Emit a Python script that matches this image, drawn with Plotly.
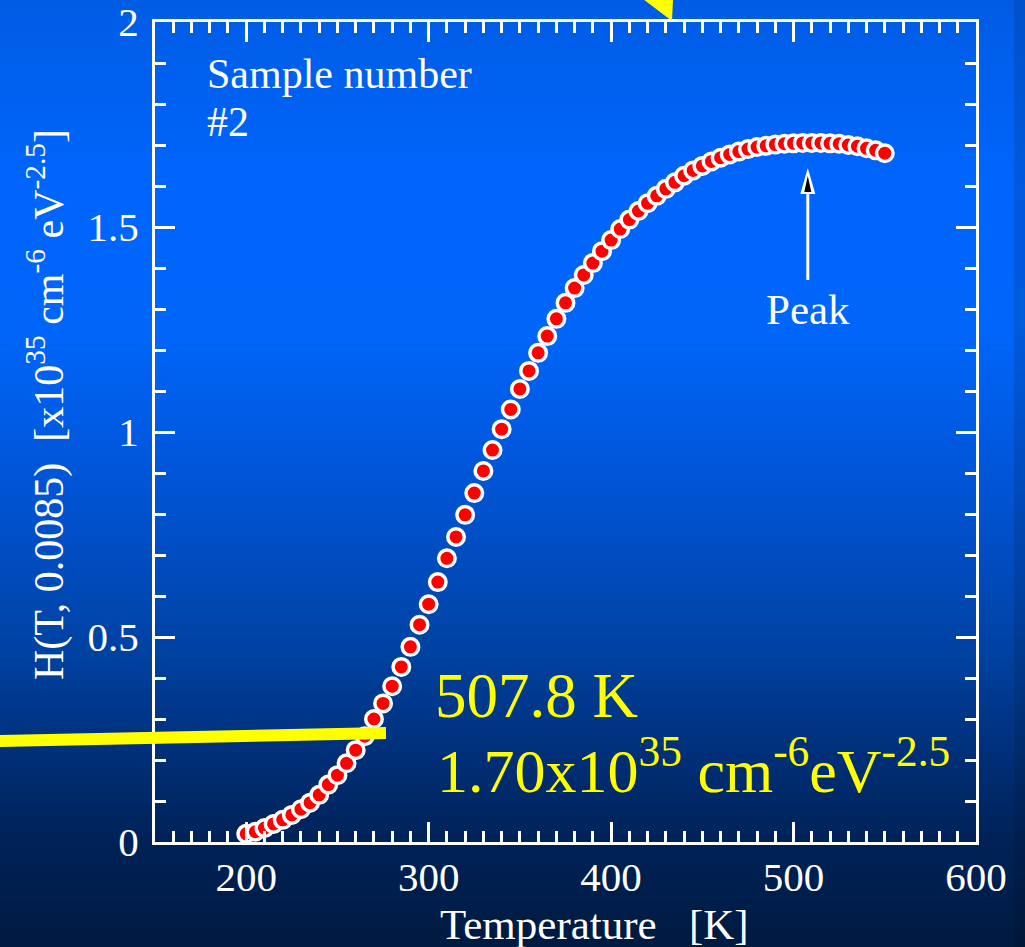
import plotly.graph_objects as go

# Measured H(T, 0.0085) curve for sample #2
temperature_k = [
    200, 205, 210, 215, 220, 225, 230, 235, 240, 245,
    250, 255, 260, 265, 270, 275, 280, 285, 290, 295,
    300, 305, 310, 315, 320, 325, 330, 335, 340, 345,
    350, 355, 360, 365, 370, 375, 380, 385, 390, 395,
    400, 405, 410, 415, 420, 425, 430, 435, 440, 445,
    450, 455, 460, 465, 470, 475, 480, 485, 490, 495,
    500, 505, 510, 515, 520, 525, 530, 535, 540, 545,
    550,
]
h_value = [
    0.020, 0.025, 0.034, 0.044, 0.054, 0.066, 0.080, 0.096, 0.115, 0.140,
    0.163, 0.192, 0.224, 0.258, 0.300, 0.338, 0.380, 0.427, 0.476, 0.530,
    0.580, 0.634, 0.692, 0.744, 0.798, 0.851, 0.905, 0.956, 1.007, 1.055,
    1.105, 1.149, 1.193, 1.234, 1.276, 1.315, 1.351, 1.383, 1.412, 1.441,
    1.468, 1.495, 1.518, 1.539, 1.558, 1.576, 1.593, 1.609, 1.625, 1.638,
    1.649, 1.660, 1.669, 1.677, 1.684, 1.690, 1.695, 1.698, 1.701, 1.703,
    1.704, 1.705, 1.705, 1.705, 1.704, 1.703, 1.700, 1.697, 1.692, 1.687,
    1.680,
]
x_tick_values = [200, 300, 400, 500, 600]
y_tick_values = [0, 0.5, 1, 1.5, 2]

peak_t = 507.8
peak_h = 1.70

FONT = "Liberation Serif"
W, H = 1025, 947

# plot frame in page pixels
PX_L, PX_R, PX_T, PX_B = 155, 976, 22, 842
X_RANGE = [150, 600]
Y_RANGE = [0, 2]
KX = (PX_R - PX_L) / (X_RANGE[1] - X_RANGE[0])   # px per kelvin
KY = (PX_B - PX_T) / (Y_RANGE[1] - Y_RANGE[0])   # px per unit


def px(x):
    return x / W


def py(y):
    return 1 - y / H


def lerp(a, b, t):
    return a + (b - a) * t


# vertical background gradient (page y -> rgb)
grad_stops = [
    (0, (0, 92, 228)),
    (180, (0, 101, 252)),
    (330, (0, 102, 250)),
    (450, (0, 88, 222)),
    (560, (0, 76, 192)),
    (650, (0, 66, 162)),
    (750, (0, 48, 122)),
    (840, (0, 34, 88)),
    (947, (0, 26, 64)),
]


def grad_color(y, dim=1.0):
    for (y0, c0), (y1, c1) in zip(grad_stops[:-1], grad_stops[1:]):
        if y0 <= y <= y1:
            t = (y - y0) / (y1 - y0)
            r, g, b = (lerp(c0[i], c1[i], t) * dim for i in range(3))
            return f"rgb({r:.0f},{g:.0f},{b:.0f})"
    r, g, b = (v * dim for v in grad_stops[-1][1])
    return f"rgb({r:.0f},{g:.0f},{b:.0f})"


shapes = []
step = 3
for y in range(0, H, step):
    shapes.append(dict(
        type="rect", xref="paper", yref="paper", layer="below",
        x0=0, x1=px(1014), y0=py(y + step + 0.5), y1=py(y),
        fillcolor=grad_color(y + step / 2), line=dict(width=0),
    ))
    shapes.append(dict(
        type="rect", xref="paper", yref="paper", layer="below",
        x0=px(1014), x1=1, y0=py(y + step + 0.5), y1=py(y),
        fillcolor=grad_color(y + step / 2, 0.88), line=dict(width=0),
    ))

# yellow pointer line and the tip of the upper pointer
shapes.append(dict(
    type="line", xref="paper", yref="paper", layer="above",
    x0=px(-5), y0=py(741), x1=px(386), y1=py(733),
    line=dict(color="#FFFF00", width=12),
))
shapes.append(dict(
    type="path", xref="paper", yref="paper", layer="above",
    path=f"M {px(643)},{py(-1)} L {px(673)},{py(-1)} L {px(672)},{py(21)} Z",
    fillcolor="#FFFF00", line=dict(width=0),
))

# peak arrow (offsets in pixels below the peak point)
def peak_pt(dx_px, dy_px):
    return peak_t + dx_px / KX, peak_h - dy_px / KY


tail = peak_pt(0, 135)
neck = peak_pt(0, 40)
shapes.append(dict(
    type="line", xref="x", yref="y", layer="above",
    x0=tail[0], y0=tail[1], x1=neck[0], y1=neck[1],
    line=dict(color="white", width=3),
))
tip, bl, br = peak_pt(0, 23), peak_pt(-7.5, 49), peak_pt(7.5, 49)
shapes.append(dict(
    type="path", xref="x", yref="y", layer="above",
    path=f"M {tip[0]},{tip[1]} L {bl[0]},{bl[1]} L {br[0]},{br[1]} Z",
    fillcolor="white", line=dict(width=0),
))
tip, bl, br = peak_pt(0, 31), peak_pt(-3.5, 47), peak_pt(3.5, 47)
shapes.append(dict(
    type="path", xref="x", yref="y", layer="above",
    path=f"M {tip[0]},{tip[1]} L {bl[0]},{bl[1]} L {br[0]},{br[1]} Z",
    fillcolor="black", line=dict(width=0),
))

fig = go.Figure()
fig.add_trace(go.Scatter(
    x=temperature_k, y=h_value, mode="markers",
    marker=dict(size=16.5, color="#FF0000", line=dict(color="white", width=3.5)),
    cliponaxis=False, showlegend=False,
))

annotations = [
    dict(text="Sample number", x=px(205), y=py(74), xanchor="left", yanchor="middle",
         font=dict(size=42, color="white")),
    dict(text="#2", x=px(205), y=py(122), xanchor="left", yanchor="middle",
         font=dict(size=42, color="white")),
    dict(text=f"{peak_t:.1f} K", x=px(433), y=py(696), xanchor="left", yanchor="middle",
         font=dict(size=63, color="#FFFF00")),
    dict(text=f"{peak_h:.2f}x10<sup>35</sup> cm<sup>-6</sup>eV<sup>-2.5</sup>",
         x=px(435), y=py(766), xanchor="left", yanchor="middle",
         font=dict(size=62, color="#FFFF00")),
    dict(text="Temperature\u00a0\u00a0\u00a0[K]", x=px(594), y=py(924),
         xanchor="center", yanchor="middle", font=dict(size=43, color="white")),
    dict(text="H(T, 0.0085)\u00a0\u00a0[x10<sup>35</sup> cm<sup>-6</sup> eV<sup>-2.5</sup>]",
         x=px(46), y=py(405), xanchor="center", yanchor="middle", textangle=-90,
         font=dict(size=42, color="white")),
]
for a in annotations:
    a.update(xref="paper", yref="paper", showarrow=False)
annotations.append(dict(
    text="Peak", xref="x", yref="y", x=peak_t, y=peak_h, yshift=-165,
    showarrow=False, xanchor="center", yanchor="middle",
    font=dict(size=43, color="white"),
))

axis_common = dict(
    showline=True, linecolor="white", linewidth=3, mirror="ticks",
    ticks="inside", ticklen=20, tickwidth=3, tickcolor="white",
    showgrid=False, zeroline=False, automargin=False,
    ticklabeloverflow="allow",
    tickfont=dict(family=FONT, size=41, color="white"),
)

fig.update_layout(
    width=W, height=H, autosize=False,
    margin=dict(l=0, r=0, t=0, b=0, pad=0, autoexpand=False),
    paper_bgcolor="#001a40", plot_bgcolor="rgba(0,0,0,0)",
    font=dict(family=FONT, color="white"),
    shapes=shapes, annotations=annotations,
    xaxis=dict(
        range=X_RANGE, domain=[px(PX_L), px(PX_R)],
        tickvals=x_tick_values, ticklabelstandoff=-3,
        minor=dict(dtick=10, tick0=150, ticklen=11, tickwidth=3,
                   tickcolor="white", ticks="inside"),
        **axis_common,
    ),
    yaxis=dict(
        range=Y_RANGE, domain=[py(PX_B), py(PX_T)],
        tickvals=y_tick_values, ticklabelstandoff=5,
        minor=dict(dtick=0.1, tick0=0, ticklen=11, tickwidth=3,
                   tickcolor="white", ticks="inside"),
        **axis_common,
    ),
)

fig.write_html("out.html")
